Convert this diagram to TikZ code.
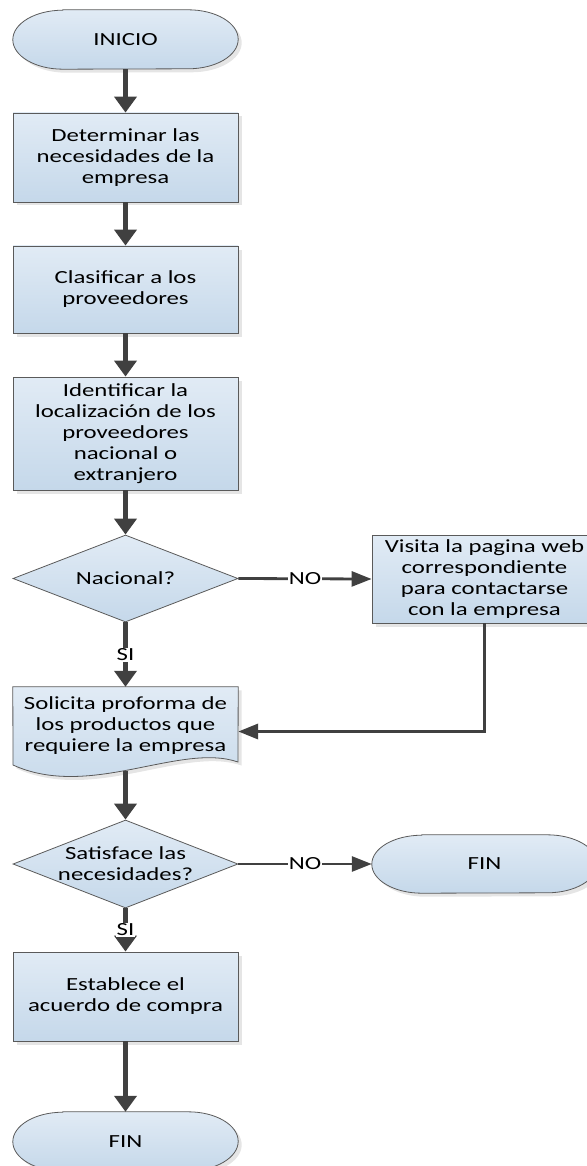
\documentclass[tikz,border=0pt]{standalone}
\usepackage{fontspec}
\setmainfont{Carlito}[FakeStretch=1.34]
\usetikzlibrary{arrows.meta,shapes.geometric,shadows,backgrounds}
\definecolor{ftop}{RGB}{225,235,245}
\definecolor{fbot}{RGB}{197,216,234}
\definecolor{edgec}{RGB}{90,90,90}
\definecolor{connc}{RGB}{64,64,64}
\begin{document}
\begin{tikzpicture}[x=1pt,y=-1pt,
  txt/.style={font=\fontsize{18.5}{21}\selectfont, text=black, align=center},
  fillsty/.style={top color=ftop, bottom color=fbot, draw=edgec, line width=0.8pt},
  shad/.style={drop shadow={shadow xshift=3.5pt, shadow yshift=-3.5pt, fill=black!20, opacity=0.5}},
  procbox/.style={txt, fillsty, shad, rectangle, minimum width=225pt, inner sep=2pt},
  decision/.style={fillsty, diamond, minimum width=225pt, inner sep=0pt},
  plainnode/.style={txt, rectangle, minimum width=225pt, inner sep=0pt},
  shapesty/.style={fillsty, shad},
  vconn/.style={draw=connc, line width=4.2pt, -{Triangle[length=16pt,width=22pt]}},
  hconn/.style={draw=connc, line width=2.8pt, -{Triangle[length=20pt,width=15pt]}},
  rconn/.style={draw=connc, line width=3.4pt, -{Triangle[length=20pt,width=15pt]}},
  lbl/.style={txt, fill=white, inner sep=1pt},
]
\useasboundingbox (0,0) rectangle (586,1166);

% nodes
\node[plainnode, minimum height=59pt] (inicio) at (125.5,39.5) {INICIO};
\node[procbox, minimum height=89pt] (b1) at (125.5,157.5) {Determinar las\\necesidades de la\\empresa};
\node[procbox, minimum height=87pt] (b2) at (125.5,289.5) {Clasificar a los\\proveedores};
\node[procbox, minimum height=113pt] (b3) at (125.5,433.5) {Identificar la\\localización de los\\proveedores\\nacional o\\extranjero};
\node[decision, minimum height=87pt, label={[txt]center:Nacional?}] (d1) at (125.5,578.5) {};
\node[procbox, minimum height=88pt] (visita) at (484.5,579) {Visita la pagina web\\correspondiente\\para contactarse\\con la empresa};
\node[plainnode, minimum height=77pt] (sol) at (125.5,725.5) {Solicita proforma de\\los productos que\\requiere la empresa};
\node[decision, minimum height=88pt, label={[txt]center:{Satisface las\\necesidades?}}] (d2) at (125.5,864) {};
\node[plainnode, minimum height=58pt] (fin2) at (484.5,864) {FIN};
\node[procbox, minimum height=89pt] (est) at (125.5,996.5) {Establece el\\acuerdo de compra};
\node[plainnode, minimum height=59pt] (fin1) at (125.5,1141.5) {FIN};

% background shapes (terminators, document)
\begin{scope}[on background layer]
  \foreach \n in {inicio,fin1}{
    \path[shapesty] ([xshift=50pt]\n.north west) -- ([xshift=-50pt]\n.north east)
      arc[start angle=90,end angle=-90,x radius=50pt,y radius=29.5pt]
      -- ([xshift=50pt]\n.south west)
      arc[start angle=270,end angle=90,x radius=50pt,y radius=29.5pt] -- cycle;
  }
  \path[shapesty] ([xshift=50pt]fin2.north west) -- ([xshift=-50pt]fin2.north east)
      arc[start angle=90,end angle=-90,x radius=50pt,y radius=29pt]
      -- ([xshift=50pt]fin2.south west)
      arc[start angle=270,end angle=90,x radius=50pt,y radius=29pt] -- cycle;
  \path[shapesty] (sol.north west) -- (sol.north east) -- (238,762)
      .. controls (180,742) and (90,800) .. (13,765) -- cycle;
\end{scope}

% connectors
\draw[vconn] (inicio) -- (b1);
\draw[vconn] (b1) -- (b2);
\draw[vconn] (b2) -- (b3);
\draw[vconn] (b3) -- (d1);
\draw[vconn] (d1) -- node[lbl] {SI} (sol);
\draw[hconn] (d1.east) -- node[lbl] {NO} (visita.west);
\draw[rconn] (visita.south) |- ([yshift=-6pt]sol.east);
\draw[vconn] ([yshift=-7pt]sol.south) -- (d2);
\draw[vconn] (d2) -- node[lbl] {SI} (est);
\draw[hconn] (d2.east) -- node[lbl] {NO} (fin2.west);
\draw[vconn] (est) -- (fin1);
\end{tikzpicture}
\end{document}
